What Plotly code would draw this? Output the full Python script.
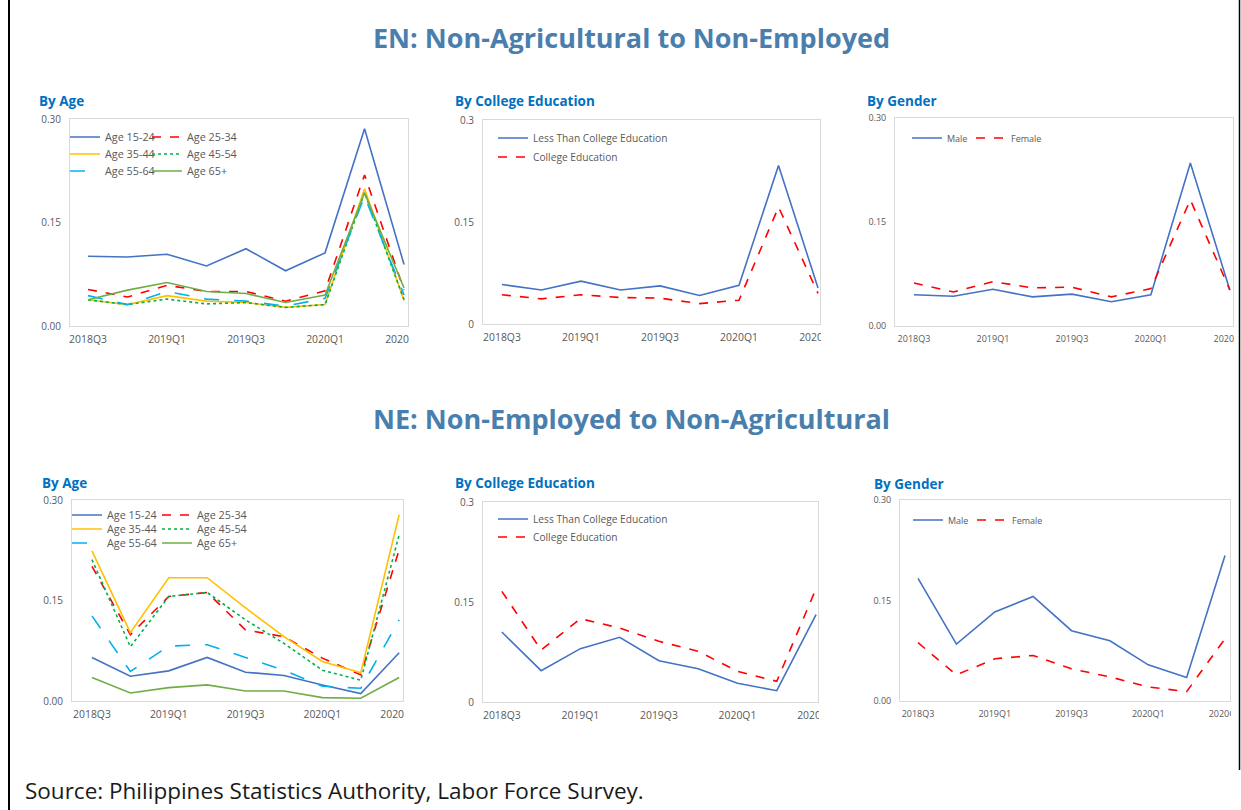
import plotly.graph_objects as go

W, H = 1241, 810

quarters = ["2018Q3", "2018Q4", "2019Q1", "2019Q2", "2019Q3", "2019Q4", "2020Q1", "2020Q2", "2020Q3"]
tick_quarters = ["2018Q3", "2019Q1", "2019Q3", "2020Q1", "2020Q3"]

# EN: Non-Agricultural to Non-Employed
en_age_15_24 = [0.101, 0.100, 0.104, 0.087, 0.112, 0.080, 0.106, 0.286, 0.089]
en_age_25_34 = [0.053, 0.042, 0.059, 0.050, 0.050, 0.036, 0.051, 0.219, 0.052]
en_age_35_44 = [0.038, 0.031, 0.044, 0.036, 0.034, 0.027, 0.031, 0.199, 0.037]
en_age_45_54 = [0.038, 0.031, 0.039, 0.032, 0.034, 0.027, 0.031, 0.193, 0.038]
en_age_55_64 = [0.044, 0.031, 0.050, 0.039, 0.036, 0.029, 0.040, 0.188, 0.045]
en_age_65p = [0.038, 0.052, 0.063, 0.050, 0.047, 0.034, 0.045, 0.193, 0.055]
en_less_college = [0.058, 0.050, 0.063, 0.050, 0.056, 0.042, 0.057, 0.233, 0.053]
en_college = [0.043, 0.037, 0.043, 0.039, 0.038, 0.030, 0.035, 0.172, 0.045]
en_male = [0.045, 0.043, 0.053, 0.042, 0.046, 0.035, 0.045, 0.235, 0.052]
en_female = [0.062, 0.049, 0.064, 0.055, 0.056, 0.042, 0.054, 0.182, 0.052]

# NE: Non-Employed to Non-Agricultural
ne_age_15_24 = [0.065, 0.037, 0.045, 0.065, 0.043, 0.038, 0.024, 0.011, 0.072]
ne_age_25_34 = [0.201, 0.099, 0.156, 0.162, 0.106, 0.096, 0.064, 0.039, 0.226]
ne_age_35_44 = [0.224, 0.102, 0.184, 0.184, 0.139, 0.096, 0.059, 0.042, 0.278]
ne_age_45_54 = [0.211, 0.081, 0.156, 0.162, 0.121, 0.086, 0.046, 0.031, 0.248]
ne_age_55_64 = [0.127, 0.044, 0.082, 0.084, 0.065, 0.046, 0.022, 0.019, 0.121]
ne_age_65p = [0.035, 0.012, 0.020, 0.024, 0.015, 0.015, 0.005, 0.004, 0.035]
ne_less_college = [0.105, 0.047, 0.080, 0.097, 0.062, 0.050, 0.028, 0.017, 0.131]
ne_college = [0.166, 0.078, 0.125, 0.111, 0.091, 0.076, 0.046, 0.031, 0.170]
ne_male = [0.183, 0.085, 0.133, 0.156, 0.105, 0.090, 0.054, 0.035, 0.217]
ne_female = [0.087, 0.039, 0.063, 0.068, 0.048, 0.036, 0.021, 0.014, 0.093]

main_titles = ["EN: Non-Agricultural to Non-Employed", "NE: Non-Employed to Non-Agricultural"]
panel_titles = ["By Age", "By College Education", "By Gender"]
source_text = "Source: Philippines Statistics Authority, Labor Force Survey."

BLUE = "#4472C4"
RED = "#FF0000"
GOLD = "#FFC000"
GREEN_DOT = "#00B050"
LBLUE = "#00B0F0"
GREEN = "#70AD47"
TITLE_BLUE = "#0070C0"
MAIN_BLUE = "#4A7EAD"
TICK = "#595959"
AXIS = "#D9D9D9"
FONT = "Open Sans"

# panel geometry in pixels: left, right(crop), top, bottom, x-range, tick fmt, tick font size
panels = [
    dict(l=70, r=408, t=119, b=326, xr=[-0.456, 8.1], fmt=".2f", fs=10.4, title_x=37, title_y=101),
    dict(l=483, r=820, t=120, b=324, xr=[-0.48, 8.05], fmt="", fs=10.4, title_x=453, title_y=101),
    dict(l=895, r=1233, t=118, b=326, xr=[-0.48, 8.08], fmt=".2f", fs=9, title_x=865, title_y=101),
    dict(l=72, r=403, t=500, b=701, xr=[-0.52, 8.1], fmt=".2f", fs=10.4, title_x=40, title_y=483),
    dict(l=483, r=818, t=502, b=702, xr=[-0.48, 8.05], fmt="", fs=10.4, title_x=453, title_y=483),
    dict(l=900, r=1230, t=500, b=701, xr=[-0.47, 8.13], fmt=".2f", fs=9, title_x=872, title_y=484),
]

fig = go.Figure()
legends = {}


def add_line(i, y, name, color, dash, text_x, center_y, size):
    sfx = "" if i == 0 else str(i + 1)
    key = "legend" if not legends else "legend" + str(len(legends) + 1)
    legends[key] = dict(
        x=(text_x - 40) / W, y=1 - center_y / H, xanchor="left", yanchor="middle",
        bgcolor="rgba(0,0,0,0)", borderwidth=0, orientation="v",
        font=dict(family=FONT, size=size, color=TICK), itemwidth=30,
        tracegroupgap=0, itemclick=False, itemdoubleclick=False,
    )
    fig.add_trace(go.Scatter(
        x=quarters, y=y, name=name, mode="lines",
        line=dict(color=color, width=1.6, dash=dash),
        xaxis="x" + sfx, yaxis="y" + sfx, legend=key,
        hoverinfo="x+y+name",
    ))


# EN panels
add_line(0, en_age_15_24, "Age 15-24", BLUE, "solid", 105, 137, 10.8)
add_line(0, en_age_25_34, "Age 25-34", RED, "dash", 187, 137, 10.8)
add_line(0, en_age_35_44, "Age 35-44", GOLD, "solid", 105, 154, 10.8)
add_line(0, en_age_45_54, "Age 45-54", GREEN_DOT, "dot", 187, 154, 10.8)
add_line(0, en_age_55_64, "Age 55-64", LBLUE, "longdash", 105, 171, 10.8)
add_line(0, en_age_65p, "Age 65+", GREEN, "solid", 187, 171, 10.8)
add_line(1, en_less_college, "Less Than College Education", BLUE, "solid", 533, 138, 10.2)
add_line(1, en_college, "College Education", RED, "dash", 533, 157, 10.2)
add_line(2, en_male, "Male", BLUE, "solid", 947, 138, 9)
add_line(2, en_female, "Female", RED, "dash", 1011, 138, 9)
# NE panels
add_line(3, ne_age_15_24, "Age 15-24", BLUE, "solid", 107, 515, 10.8)
add_line(3, ne_age_25_34, "Age 25-34", RED, "dash", 197, 515, 10.8)
add_line(3, ne_age_35_44, "Age 35-44", GOLD, "solid", 107, 529, 10.8)
add_line(3, ne_age_45_54, "Age 45-54", GREEN_DOT, "dot", 197, 529, 10.8)
add_line(3, ne_age_55_64, "Age 55-64", LBLUE, "longdash", 107, 543, 10.8)
add_line(3, ne_age_65p, "Age 65+", GREEN, "solid", 197, 543, 10.8)
add_line(4, ne_less_college, "Less Than College Education", BLUE, "solid", 533, 519, 10.2)
add_line(4, ne_college, "College Education", RED, "dash", 533, 537, 10.2)
add_line(5, ne_male, "Male", BLUE, "solid", 948, 520, 9)
add_line(5, ne_female, "Female", RED, "dash", 1012, 520, 9)

layout = dict(
    width=W, height=H, margin=dict(l=0, r=0, t=0, b=0, autoexpand=False),
    paper_bgcolor="white", plot_bgcolor="white",
    font=dict(family=FONT, color=TICK),
    showlegend=True,
)
layout.update(legends)

for i, p in enumerate(panels):
    sfx = "" if i == 0 else str(i + 1)
    layout["xaxis" + sfx] = dict(
        domain=[p["l"] / W, p["r"] / W], anchor="y" + sfx, type="category",
        categoryorder="array", categoryarray=quarters, automargin=False,
        range=p["xr"], tickmode="array", tickvals=tick_quarters, ticktext=tick_quarters,
        showgrid=False, zeroline=False, showline=True, linecolor=AXIS, linewidth=1,
        mirror=True, ticks="", ticklabelstandoff=4,
        tickfont=dict(family=FONT, size=p["fs"], color=TICK), fixedrange=True,
    )
    layout["yaxis" + sfx] = dict(
        domain=[1 - p["b"] / H, 1 - p["t"] / H], anchor="x" + sfx, automargin=False,
        range=[0, 0.30], tickmode="array", tickvals=[0, 0.15, 0.30],
        tickformat=p["fmt"], showgrid=False, zeroline=False, showline=True,
        linecolor=AXIS, linewidth=1, mirror=True, ticks="", ticklabelstandoff=6,
        tickfont=dict(family=FONT, size=min(p["fs"], 10), color=TICK), fixedrange=True,
    )

annotations = [
    dict(text="<b>" + main_titles[0] + "</b>", x=631 / W, y=1 - 37 / H, xref="paper", yref="paper",
         xanchor="center", yanchor="middle", showarrow=False,
         font=dict(family=FONT, size=27, color=MAIN_BLUE)),
    dict(text="<b>" + main_titles[1] + "</b>", x=631 / W, y=1 - 418 / H, xref="paper", yref="paper",
         xanchor="center", yanchor="middle", showarrow=False,
         font=dict(family=FONT, size=27, color=MAIN_BLUE)),
    dict(text=source_text, x=23 / W, y=1 - 790 / H, xref="paper", yref="paper",
         xanchor="left", yanchor="middle", showarrow=False,
         font=dict(family=FONT, size=22.5, color="#1a1a1a")),
]
titles = panel_titles * 2
for i, p in enumerate(panels):
    annotations.append(dict(
        text="<b>" + titles[i] + "</b>", x=p["title_x"] / W, y=1 - p["title_y"] / H,
        xref="paper", yref="paper", xanchor="left", yanchor="middle", showarrow=False,
        font=dict(family=FONT, size=13.5, color=TITLE_BLUE)))
layout["annotations"] = annotations

shapes = []
# hide the tick labels beyond each panel's cropped right edge
for p in panels:
    shapes.append(dict(type="rect", xref="paper", yref="paper", layer="above",
                       x0=(p["r"] + 1) / W, x1=min(p["r"] + 32, W) / W,
                       y0=1 - (p["b"] + 28) / H, y1=1 - (p["b"] + 6) / H,
                       fillcolor="white", line=dict(width=0)))
# frame lines
shapes.append(dict(type="line", xref="paper", yref="paper", x0=9 / W, x1=9 / W, y0=0, y1=1,
                   line=dict(color="black", width=2)))
shapes.append(dict(type="line", xref="paper", yref="paper", x0=1239.5 / W, x1=1239.5 / W,
                   y0=1 - 770 / H, y1=1, line=dict(color="black", width=1.5)))
layout["shapes"] = shapes

fig.update_layout(**layout)
fig.write_html(
    "out.html",
    config={"displayModeBar": False},
    post_script="document.body.style.margin='0';document.body.style.overflow='hidden';",
)
